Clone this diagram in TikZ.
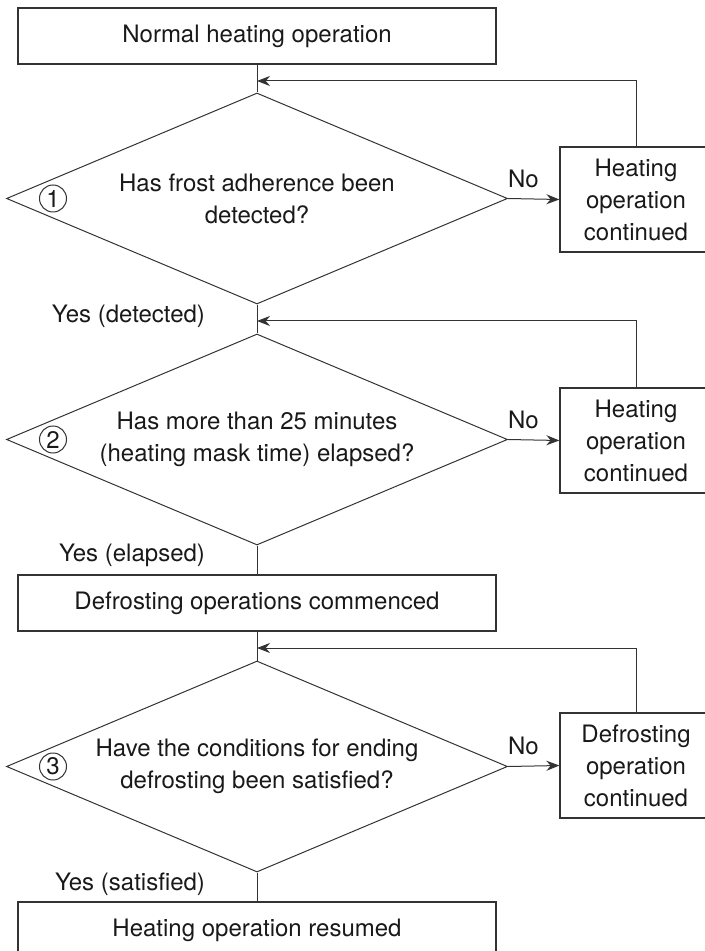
\documentclass[tikz,border=0pt]{standalone}
\usepackage{fontspec}
\setmainfont{TeX Gyre Heros}
\usetikzlibrary{shapes.geometric,arrows.meta}

\begin{document}
\begin{tikzpicture}[x=0.5pt, y=-0.5pt,
    every node/.style={font=\fontsize{12}{16}\selectfont, text=black!90},
    mainbox/.style={draw=black!80, line width=0.6pt, rectangle, minimum width=239pt, minimum height=28pt},
    sidebox/.style={draw=black!80, line width=0.6pt, rectangle, minimum width=76pt, minimum height=52.5pt, align=center},
    question/.style={draw=black!80, line width=0.5pt, diamond, aspect=2.37, inner sep=0pt, minimum width=250.5pt, minimum height=105.5pt, align=center},
    num/.style={draw=black!80, line width=0.5pt, circle, inner sep=0pt, minimum size=13.5pt},
    flow/.style={draw=black!80, line width=0.5pt},
    arr/.style={flow, -{Stealth[length=6.5pt, width=5pt]}}]
    \useasboundingbox (0,0) rectangle (705,951);

    % main column
    \node[mainbox] (normal) at (257,36) {Normal heating operation};
    \node[question] (frost) at (257,198.5) {Has frost adherence been\\detected?};
    \node[question] (mask) at (257,439.5) {Has more than 25 minutes\\(heating mask time) elapsed?};
    \node[mainbox] (defrost) at (257,603) {Defrosting operations commenced};
    \node[question] (ending) at (257,766.5) {Have the conditions for ending\\defrosting been satisfied?};
    \node[mainbox] (resumed) at (257,930) {Heating operation resumed};

    % circled step numbers
    \node[num] (n1) at (53,198.5) {1};
    \node[num] (n2) at (53,439.5) {2};
    \node[num] (n3) at (53,766.5) {3};

    % side boxes
    \node[sidebox] (heat1) at (636,199.5) {Heating\\operation\\continued};
    \node[sidebox] (heat2) at (636,440.5) {Heating\\operation\\continued};
    \node[sidebox] (defcont) at (636,765.5) {Defrosting\\operation\\continued};

    % yes labels
    \node[anchor=east] (yes1) at (212,316) {Yes (detected)};
    \node[anchor=east] (yes2) at (212,555) {Yes (elapsed)};
    \node[anchor=east] (yes3) at (212,884) {Yes (satisfied)};

    % joins of the loops
    \coordinate (join1) at (257,81);
    \coordinate (join2) at (257,321);
    \coordinate (join3) at (257,648);

    \draw[flow] (normal) -- (frost);
    \draw[flow] (frost) -- (mask);
    \draw[flow] (mask) -- (defrost);
    \draw[flow] (defrost) -- (ending);
    \draw[flow] (ending) -- (resumed);

    \draw[arr] (frost.east) -- node[pos=0.3, above=2pt] {No} (heat1.west);
    \draw[arr] (mask.east) -- node[pos=0.3, above=2pt] {No} (heat2.west);
    \draw[arr] (ending.east) -- node[pos=0.3, above=2pt] {No} (defcont.west);

    \draw[arr] (heat1.north) |- (join1);
    \draw[arr] (heat2.north) |- (join2);
    \draw[arr] (defcont.north) |- (join3);
\end{tikzpicture}
\end{document}
